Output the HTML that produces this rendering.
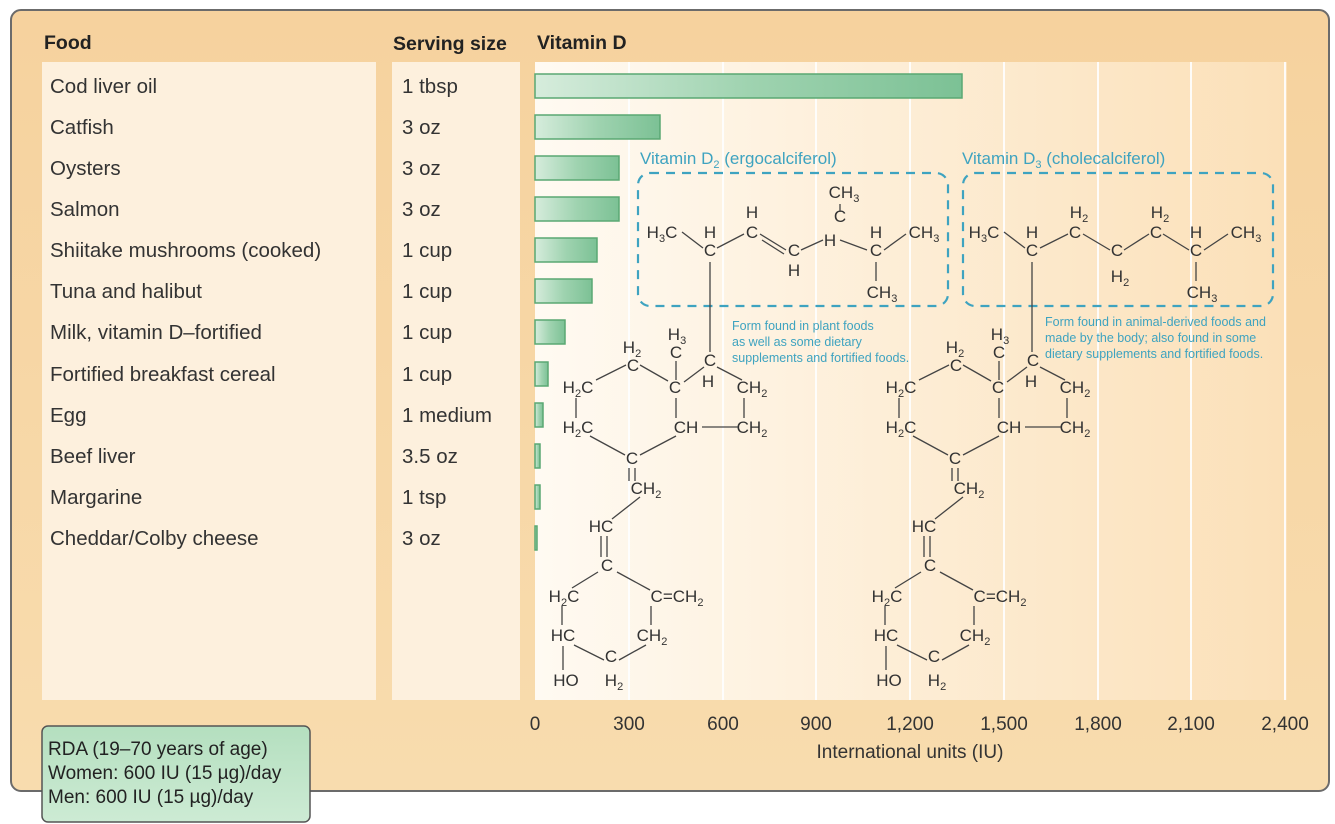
<!DOCTYPE html>
<html><head><meta charset="utf-8"><style>
html,body{margin:0;padding:0;background:#fff;}
svg{display:block;font-family:"Liberation Sans",sans-serif;}
</style></head><body>
<svg width="1335" height="824" viewBox="0 0 1335 824" xmlns="http://www.w3.org/2000/svg">
<defs>
<linearGradient id="plot" x1="0" x2="1" y1="0" y2="0">
<stop offset="0" stop-color="#fffaf2"/><stop offset="1" stop-color="#fbe0b8"/></linearGradient>
<linearGradient id="bg" x1="0" x2="0" y1="0" y2="1">
<stop offset="0" stop-color="#f6d29e"/><stop offset="1" stop-color="#f8dcae"/></linearGradient>
<linearGradient id="bar" x1="0" x2="1" y1="0" y2="0">
<stop offset="0" stop-color="#d6ecdc"/><stop offset="0.5" stop-color="#9fd3b0"/><stop offset="1" stop-color="#7cc195"/></linearGradient>
<linearGradient id="rda" x1="0" x2="0" y1="0" y2="1">
<stop offset="0" stop-color="#b4dfbf"/><stop offset="1" stop-color="#cdebd4"/></linearGradient>
</defs>
<rect x="11" y="10" width="1318" height="781" rx="10" fill="url(#bg)" stroke="#6b6b6b" stroke-width="2"/>
<rect x="42" y="62" width="334" height="638" fill="#fdf0dd"/>
<rect x="392" y="62" width="128" height="638" fill="#fdf0dd"/>
<rect x="535" y="62" width="752" height="638" fill="url(#plot)"/>
<g stroke="#ffffff" stroke-width="2" opacity="0.9">
<line x1="629" y1="62" x2="629" y2="700"/><line x1="723" y1="62" x2="723" y2="700"/>
<line x1="816" y1="62" x2="816" y2="700"/><line x1="910" y1="62" x2="910" y2="700"/>
<line x1="1004" y1="62" x2="1004" y2="700"/><line x1="1098" y1="62" x2="1098" y2="700"/>
<line x1="1191" y1="62" x2="1191" y2="700"/><line x1="1285" y1="62" x2="1285" y2="700"/>
</g>
<g font-weight="bold" font-size="19.5" fill="#222">
<text x="44" y="49">Food</text><text x="393" y="50">Serving size</text><text x="537" y="49">Vitamin D</text>
</g>
<g font-size="20.5" fill="#333">
<text x="50" y="93">Cod liver oil</text><text x="402" y="93">1 tbsp</text>
<text x="50" y="134">Catfish</text><text x="402" y="134">3 oz</text>
<text x="50" y="175">Oysters</text><text x="402" y="175">3 oz</text>
<text x="50" y="216">Salmon</text><text x="402" y="216">3 oz</text>
<text x="50" y="257">Shiitake mushrooms (cooked)</text><text x="402" y="257">1 cup</text>
<text x="50" y="298">Tuna and halibut</text><text x="402" y="298">1 cup</text>
<text x="50" y="339">Milk, vitamin D–fortified</text><text x="402" y="339">1 cup</text>
<text x="50" y="381">Fortified breakfast cereal</text><text x="402" y="381">1 cup</text>
<text x="50" y="422">Egg</text><text x="402" y="422">1 medium</text>
<text x="50" y="463">Beef liver</text><text x="402" y="463">3.5 oz</text>
<text x="50" y="504">Margarine</text><text x="402" y="504">1 tsp</text>
<text x="50" y="545">Cheddar/Colby cheese</text><text x="402" y="545">3 oz</text>
</g>
<g fill="url(#bar)" stroke="#5aa873" stroke-width="1.5">
<rect x="535" y="74" width="427" height="24"/>
<rect x="535" y="115" width="125" height="24"/>
<rect x="535" y="156" width="84" height="24"/>
<rect x="535" y="197" width="84" height="24"/>
<rect x="535" y="238" width="62" height="24"/>
<rect x="535" y="279" width="57" height="24"/>
<rect x="535" y="320" width="30" height="24"/>
<rect x="535" y="362" width="13" height="24"/>
<rect x="535" y="403" width="8" height="24"/>
<rect x="535" y="444" width="5" height="24"/>
<rect x="535" y="485" width="5" height="24"/>
<rect x="535" y="526" width="2" height="24"/>
</g>
<g font-size="19" fill="#333" text-anchor="middle">
<text x="535" y="730">0</text><text x="629" y="730">300</text><text x="723" y="730">600</text>
<text x="816" y="730">900</text><text x="910" y="730">1,200</text><text x="1004" y="730">1,500</text>
<text x="1098" y="730">1,800</text><text x="1191" y="730">2,100</text><text x="1285" y="730">2,400</text>
<text x="910" y="758">International units (IU)</text>
</g>
<rect x="42" y="726" width="268" height="96" rx="6" fill="url(#rda)" stroke="#555" stroke-width="1.5"/>
<g font-size="19" fill="#222">
<text x="48" y="755">RDA (19–70 years of age)</text>
<text x="48" y="779">Women: 600 IU (15 µg)/day</text>
<text x="48" y="803">Men: 600 IU (15 µg)/day</text>
</g>
<g fill="none" stroke="#3ea3c0" stroke-width="2.2" stroke-dasharray="9,7">
<rect x="638" y="173" width="310" height="133" rx="12"/>
<rect x="963" y="173" width="310" height="133" rx="12"/>
</g>
<g fill="#3ea3c0" font-size="17">
<text x="640" y="164">Vitamin D<tspan font-size="11" dy="4">2</tspan><tspan dy="-4"> (ergocalciferol)</tspan></text>
<text x="962" y="164">Vitamin D<tspan font-size="11" dy="4">3</tspan><tspan dy="-4"> (cholecalciferol)</tspan></text>
</g>
<g fill="#3ea3c0" font-size="12.5">
<text x="732" y="330">Form found in plant foods</text>
<text x="732" y="346">as well as some dietary</text>
<text x="732" y="362">supplements and fortified foods.</text>
<text x="1045" y="326">Form found in animal-derived foods and</text>
<text x="1045" y="342">made by the body; also found in some</text>
<text x="1045" y="358">dietary supplements and fortified foods.</text>
</g>
<g font-size="17" fill="#333" text-anchor="middle">
<text x="662" y="238">H<tspan font-size="11" dy="4">3</tspan><tspan dy="-4">C</tspan></text>
<text x="710" y="238">H</text><text x="710" y="256">C</text>
<text x="752" y="218">H</text><text x="752" y="238">C</text>
<text x="794" y="256">C</text><text x="794" y="276">H</text>
<text x="844" y="198">CH<tspan font-size="11" dy="4">3</tspan></text>
<text x="840" y="222">C</text><text x="830" y="246">H</text>
<text x="876" y="238">H</text><text x="876" y="256">C</text>
<text x="924" y="238">CH<tspan font-size="11" dy="4">3</tspan></text>
<text x="882" y="298">CH<tspan font-size="11" dy="4">3</tspan></text>
</g>
<g stroke="#444" stroke-width="1.3" fill="none">
<line x1="682" y1="232" x2="703" y2="248"/><line x1="717" y1="248" x2="744" y2="234"/>
<line x1="760" y1="234" x2="786" y2="250"/><line x1="762" y1="240" x2="784" y2="254"/>
<line x1="801" y1="250" x2="823" y2="240"/><line x1="840" y1="204" x2="840" y2="212"/>
<line x1="840" y1="240" x2="867" y2="250"/><line x1="884" y1="250" x2="906" y2="234"/>
<line x1="876" y1="262" x2="876" y2="281"/>
</g>
<g font-size="17" fill="#333" text-anchor="middle">
<text x="984" y="238">H<tspan font-size="11" dy="4">3</tspan><tspan dy="-4">C</tspan></text>
<text x="1032" y="238">H</text><text x="1032" y="256">C</text>
<text x="1079" y="218">H<tspan font-size="11" dy="4">2</tspan></text><text x="1075" y="238">C</text>
<text x="1117" y="256">C</text><text x="1120" y="282">H<tspan font-size="11" dy="4">2</tspan></text>
<text x="1160" y="218">H<tspan font-size="11" dy="4">2</tspan></text><text x="1156" y="238">C</text>
<text x="1196" y="238">H</text><text x="1196" y="256">C</text>
<text x="1246" y="238">CH<tspan font-size="11" dy="4">3</tspan></text>
<text x="1202" y="298">CH<tspan font-size="11" dy="4">3</tspan></text>
</g>
<g stroke="#444" stroke-width="1.3" fill="none">
<line x1="1004" y1="232" x2="1025" y2="248"/><line x1="1040" y1="248" x2="1068" y2="234"/>
<line x1="1083" y1="234" x2="1110" y2="250"/><line x1="1124" y1="250" x2="1149" y2="234"/>
<line x1="1163" y1="234" x2="1189" y2="250"/><line x1="1204" y1="250" x2="1228" y2="234"/>
<line x1="1196" y1="262" x2="1196" y2="281"/>
</g>
<g>
<g font-size="17" fill="#333" text-anchor="middle">
<text x="710" y="366">C</text><text x="708" y="387">H</text>
<text x="677" y="340">H<tspan font-size="11" dy="4">3</tspan></text><text x="676" y="358">C</text>
<text x="632" y="353">H<tspan font-size="11" dy="4">2</tspan></text><text x="633" y="371">C</text>
<text x="675" y="393">C</text><text x="752" y="393">CH<tspan font-size="11" dy="4">2</tspan></text>
<text x="578" y="393">H<tspan font-size="11" dy="4">2</tspan><tspan dy="-4">C</tspan></text>
<text x="578" y="433">H<tspan font-size="11" dy="4">2</tspan><tspan dy="-4">C</tspan></text>
<text x="686" y="433">CH</text><text x="752" y="433">CH<tspan font-size="11" dy="4">2</tspan></text>
<text x="632" y="464">C</text><text x="646" y="494">CH<tspan font-size="11" dy="4">2</tspan></text>
<text x="601" y="532">HC</text><text x="607" y="571">C</text>
<text x="564" y="602">H<tspan font-size="11" dy="4">2</tspan><tspan dy="-4">C</tspan></text>
<text x="677" y="602">C=CH<tspan font-size="11" dy="4">2</tspan></text>
<text x="563" y="641">HC</text><text x="652" y="641">CH<tspan font-size="11" dy="4">2</tspan></text>
<text x="611" y="662">C</text>
<text x="566" y="686">HO</text><text x="614" y="686">H<tspan font-size="11" dy="4">2</tspan></text>
</g>
<g stroke="#444" stroke-width="1.3" fill="none">
<line x1="710" y1="262" x2="710" y2="352"/>
<line x1="596" y1="380" x2="626" y2="365"/><line x1="640" y1="365" x2="668" y2="381"/>
<line x1="676" y1="361" x2="676" y2="380"/><line x1="684" y1="382" x2="704" y2="367"/>
<line x1="717" y1="367" x2="742" y2="380"/>
<line x1="576" y1="398" x2="576" y2="418"/><line x1="676" y1="398" x2="676" y2="418"/>
<line x1="744" y1="398" x2="744" y2="418"/><line x1="702" y1="427" x2="738" y2="427"/>
<line x1="590" y1="436" x2="625" y2="455"/><line x1="640" y1="455" x2="676" y2="436"/>
<line x1="629" y1="468" x2="629" y2="481"/><line x1="635" y1="468" x2="635" y2="481"/>
<line x1="640" y1="497" x2="612" y2="519"/>
<line x1="601" y1="536" x2="601" y2="557"/><line x1="607" y1="536" x2="607" y2="557"/>
<line x1="598" y1="572" x2="572" y2="588"/><line x1="617" y1="572" x2="650" y2="590"/>
<line x1="562" y1="606" x2="562" y2="625"/><line x1="651" y1="606" x2="651" y2="625"/>
<line x1="574" y1="645" x2="604" y2="660"/><line x1="619" y1="660" x2="646" y2="645"/>
<line x1="563" y1="646" x2="563" y2="670"/>
</g>
</g>
<g transform="translate(323,0)">
<g font-size="17" fill="#333" text-anchor="middle">
<text x="710" y="366">C</text><text x="708" y="387">H</text>
<text x="677" y="340">H<tspan font-size="11" dy="4">3</tspan></text><text x="676" y="358">C</text>
<text x="632" y="353">H<tspan font-size="11" dy="4">2</tspan></text><text x="633" y="371">C</text>
<text x="675" y="393">C</text><text x="752" y="393">CH<tspan font-size="11" dy="4">2</tspan></text>
<text x="578" y="393">H<tspan font-size="11" dy="4">2</tspan><tspan dy="-4">C</tspan></text>
<text x="578" y="433">H<tspan font-size="11" dy="4">2</tspan><tspan dy="-4">C</tspan></text>
<text x="686" y="433">CH</text><text x="752" y="433">CH<tspan font-size="11" dy="4">2</tspan></text>
<text x="632" y="464">C</text><text x="646" y="494">CH<tspan font-size="11" dy="4">2</tspan></text>
<text x="601" y="532">HC</text><text x="607" y="571">C</text>
<text x="564" y="602">H<tspan font-size="11" dy="4">2</tspan><tspan dy="-4">C</tspan></text>
<text x="677" y="602">C=CH<tspan font-size="11" dy="4">2</tspan></text>
<text x="563" y="641">HC</text><text x="652" y="641">CH<tspan font-size="11" dy="4">2</tspan></text>
<text x="611" y="662">C</text>
<text x="566" y="686">HO</text><text x="614" y="686">H<tspan font-size="11" dy="4">2</tspan></text>
</g>
<g stroke="#444" stroke-width="1.3" fill="none">
<line x1="709" y1="262" x2="709" y2="352"/>
<line x1="596" y1="380" x2="626" y2="365"/><line x1="640" y1="365" x2="668" y2="381"/>
<line x1="676" y1="361" x2="676" y2="380"/><line x1="684" y1="382" x2="704" y2="367"/>
<line x1="717" y1="367" x2="742" y2="380"/>
<line x1="576" y1="398" x2="576" y2="418"/><line x1="676" y1="398" x2="676" y2="418"/>
<line x1="744" y1="398" x2="744" y2="418"/><line x1="702" y1="427" x2="738" y2="427"/>
<line x1="590" y1="436" x2="625" y2="455"/><line x1="640" y1="455" x2="676" y2="436"/>
<line x1="629" y1="468" x2="629" y2="481"/><line x1="635" y1="468" x2="635" y2="481"/>
<line x1="640" y1="497" x2="612" y2="519"/>
<line x1="601" y1="536" x2="601" y2="557"/><line x1="607" y1="536" x2="607" y2="557"/>
<line x1="598" y1="572" x2="572" y2="588"/><line x1="617" y1="572" x2="650" y2="590"/>
<line x1="562" y1="606" x2="562" y2="625"/><line x1="651" y1="606" x2="651" y2="625"/>
<line x1="574" y1="645" x2="604" y2="660"/><line x1="619" y1="660" x2="646" y2="645"/>
<line x1="563" y1="646" x2="563" y2="670"/>
</g>
</g>
</svg>
</body></html>
